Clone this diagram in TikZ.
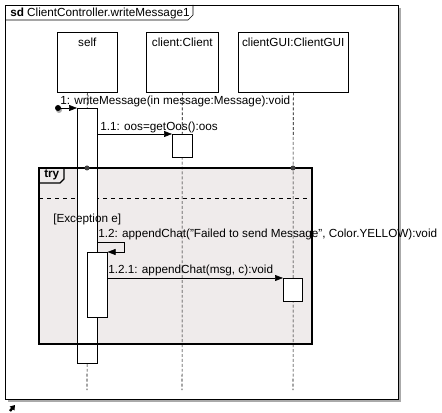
\documentclass[tikz,border=0pt]{standalone}
\usepackage{fontspec}
\setmainfont{Liberation Sans}
\usetikzlibrary{arrows.meta}

\definecolor{fragfill}{RGB}{239,235,235}
\definecolor{shadowgray}{RGB}{170,170,170}

\tikzset{
	every node/.style={font=\fontsize{8.8pt}{10pt}\selectfont},
	lifebox/.style={draw, fill=white, anchor=north west, minimum height=45pt, inner sep=0pt},
	actbox/.style={draw, fill=white, anchor=north west, minimum width=15pt, inner sep=0pt},
	lifeline/.style={dashed, dash pattern=on 2.2pt off 1.5pt},
	msg/.style={-{Triangle[length=6pt,width=4.5pt]}},
	msgtext/.style={anchor=west, inner sep=0pt}
}

\begin{document}
\begin{tikzpicture}[x=0.75pt,y=-0.75pt]
		\useasboundingbox (0,0) rectangle (442,413);

		% frame
		\fill [shadowgray] (8,8) rectangle (401,402);
		\draw [fill=white] (5,5) rectangle (398,399);
		\draw (5,20)--(188,20)--(193,15)--(193,5);
		\node [msgtext] (sdname) at (10,13) {\textbf{sd} ClientController.writeMessage1};

		% try fragment
		\draw [fill=fragfill] (39,168) rectangle (312,344);
		\draw [dashed] (39,198)--(312,198);

		% lifelines
		\node [lifebox, minimum width=45pt] (self) at (57,32) {};
		\node [lifebox, minimum width=54pt] (client) at (146,32) {};
		\node [lifebox, minimum width=82.5pt] (gui) at (238,32) {};
		\node [below=1pt] (selfname) at (self.north) {self};
		\node [below=1pt] (clientname) at (client.north) {client:Client};
		\node [below=1pt] (guiname) at (gui.north) {clientGUI:ClientGUI};

		\coordinate (selfend) at (87,390);
		\coordinate (clientend) at (182,390);
		\coordinate (guiend) at (293,390);
		\draw [lifeline] (self.south)--(selfend);
		\draw [lifeline] (client.south)--(clientend);
		\draw [lifeline] (gui.south)--(guiend);

		% activations
		\node [actbox, minimum height=191.25pt] (actS) at (77,108) {};
		\node [actbox, minimum height=17.25pt] (actC) at (172,134) {};
		\node [actbox, minimum height=48.75pt] (actN) at (87,252) {};
		\node [actbox, minimum height=17.25pt, minimum width=14.25pt] (actG) at (283,278) {};

		% fragment border on top
		\draw [very thick] (39,168) rectangle (312,344);
		\draw [thick] (39,183)--(60,183)--(64,179)--(64,168);
		\node [msgtext] (tryname) at (44,175) {\textbf{try}};
		\node [msgtext] (guard) at (53,219) {[Exception e]};
		\fill [black!75] (87,168) circle [radius=2.5];
		\fill [black!75] (293,168) circle [radius=2.5];

		% messages
		\coordinate (found) at (58,108);
		\fill [shadowgray] (59,110) circle [radius=3];
		\fill (found) circle [radius=3];
		\draw [msg] (found)--(actS.north west);
		\node [msgtext] (m1) at (60,101) {1: writeMessage(in message:Message):void};

		\draw [msg] (actC.north west -| actS.east)--(actC.north west);
		\node [msgtext] (m11) at (100,127) {1.1: oos=getOos():oos};

		\coordinate (selfturn) at (124,242);
		\draw [msg] (actS.east |- selfturn)--(selfturn)--(selfturn |- actN.north)--(actN.north east);
		\node [msgtext] (m12) at (98,234) {1.2: appendChat("Failed to send Message", Color.YELLOW):void};

		\draw [msg] (actG.north west -| actN.east)--(actG.north west);
		\node [msgtext] (m121) at (108,270) {1.2.1: appendChat(msg, c):void};

		% corner icon
		\draw [line width=1.8pt, -{Triangle[length=3.5pt,width=4.5pt]}] (10,411)--(15,405);

	\end{tikzpicture}
\end{document}
